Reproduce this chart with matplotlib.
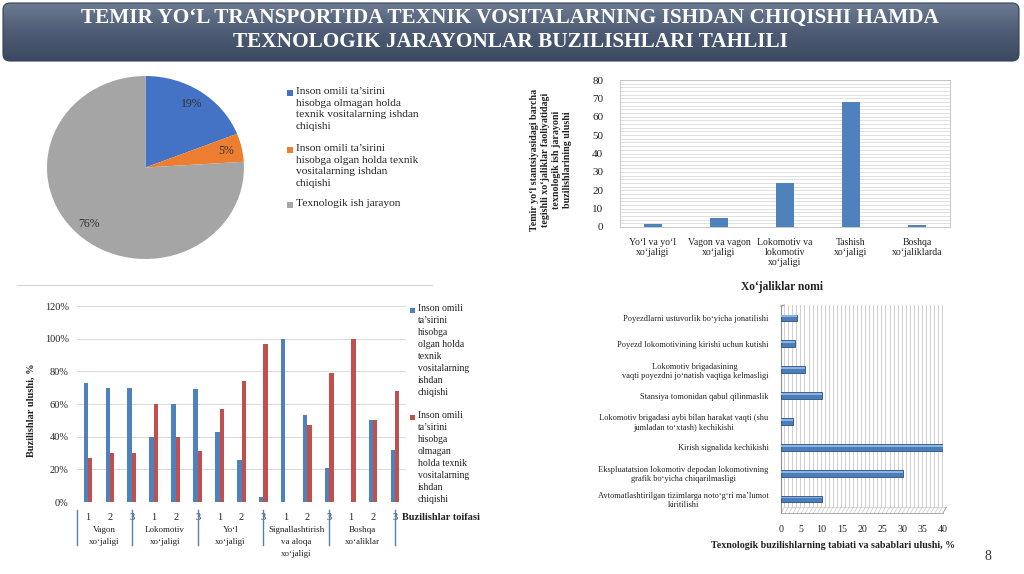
import numpy as np
import matplotlib
matplotlib.use("Agg")
import matplotlib.pyplot as plt
from matplotlib.patches import FancyBboxPatch, Rectangle
from matplotlib.colors import LinearSegmentedColormap
from matplotlib.ticker import MultipleLocator, FuncFormatter
import matplotlib.transforms as mtransforms

plt.rcParams['font.family'] = ['Liberation Serif', 'DejaVu Serif']

# ---------------- data ----------------
title_lines = ["TEMIR YO‘L TRANSPORTIDA TEXNIK VOSITALARNING ISHDAN CHIQISHI HAMDA",
               "TEXNOLOGIK JARAYONLAR BUZILISHLARI TAHLILI"]

pie_labels = ["Inson omili ta’sirini\nhisobga olmagan holda\ntexnik vositalarning ishdan\nchiqishi",
              "Inson omili ta’sirini\nhisobga olgan holda texnik\nvositalarning ishdan\nchiqishi",
              "Texnologik ish jarayon"]
pie_values = [19, 5, 76]
pie_colors = ['#4472C4', '#ED7D31', '#A5A5A5']

dept_names = ["Yo‘l va yo‘l\nxo‘jaligi", "Vagon va vagon\nxo‘jaligi",
              "Lokomotiv va\nlokomotiv\nxo‘jaligi", "Tashish\nxo‘jaligi",
              "Boshqa\nxo‘jaliklarda"]
dept_values = [1.8, 4.7, 24, 68, 0.9]
dept_ylabel = ("Temir yo‘l stantsiyasidagi barcha\ntegishli xo‘jaliklar faoliyatidagi\n"
               "texnologik ish jarayoni\nbuzilishlarining ulushi")
dept_xlabel = "Xo‘jaliklar nomi"

group_names = ["Vagon\nxo‘jaligi", "Lokomotiv\nxo‘jaligi", "Yo‘l\nxo‘jaligi",
               "Signallashtirish\nva aloqa\nxo‘jaligi", "Boshqa\nxo‘aliklar"]
sub_labels = ["1", "2", "3"]
share_blue = [73, 70, 70, 40, 60, 69, 43, 26, 3, 100, 53, 21, 0, 50, 32]
share_red = [27, 30, 30, 60, 40, 31, 57, 74, 97, 0, 47, 79, 100, 50, 68]
share_legend = ["Inson omili\nta’sirini\nhisobga\nolgan holda\ntexnik\nvositalarning\nishdan\nchiqishi",
                "Inson omili\nta’sirini\nhisobga\nolmagan\nholda texnik\nvositalarning\nishdan\nchiqishi"]
share_colors = ['#4F81BD', '#C0504D']

tech_causes = ["Poyezdlarni ustuvorlik bo‘yicha jonatilishi",
               "Poyezd lokomotivining kirishi uchun kutishi",
               "Lokomotiv brigadasining\nvaqti poyezdni jo‘natish vaqtiga kelmasligi",
               "Stansiya tomonidan qabul qilinmaslik",
               "Lokomotiv brigadasi aybi bilan harakat vaqti (shu\njumladan to‘xtash) kechikishi",
               "Kirish signalida kechikishi",
               "Ekspluatatsion lokomotiv depodan lokomotivning\ngrafik bo‘yicha chiqarilmasligi",
               "Avtomatlashtirilgan tizimlarga noto‘g‘ri ma’lumot\nkiritilishi"]
tech_values = [4, 3.5, 6, 10, 3, 40, 30, 10]
tech_xlabel = "Texnologik buzilishlarning tabiati va sabablari ulushi, %"

# ---------------- figure ----------------
W, H = 1024, 574
fig = plt.figure(figsize=(W / 100, H / 100), dpi=100)
fig.patch.set_facecolor('white')


def add_ax(x0, y0, x1, y1, **kw):
    return fig.add_axes([x0 / W, 1 - y1 / H, (x1 - x0) / W, (y1 - y0) / H], **kw)


def ftext(x, y, s, **kw):
    return fig.text(x / W, 1 - y / H, s, **kw)


# ---- title banner ----
bax = add_ax(2, 2, 1020, 62)
bax.set_xlim(0, 1018)
bax.set_ylim(0, 60)
bax.set_axis_off()
cmap = LinearSegmentedColormap.from_list('banner', ['#6d7c91', '#4d5c74', '#3b4861'])
grad = np.linspace(0, 1, 64).reshape(-1, 1)
im = bax.imshow(grad, aspect='auto', cmap=cmap, extent=[0, 1018, 0, 60], origin='upper')
patch = FancyBboxPatch((1, 1), 1016, 58, boxstyle='round,pad=0,rounding_size=7',
                       facecolor='none', edgecolor='#34415a', lw=0.8)
bax.add_patch(patch)
im.set_clip_path(patch)
ftext(510, 18, title_lines[0], ha='center', va='center', color='white',
      fontsize=15.35, fontweight='bold')
ftext(510, 42, title_lines[1], ha='center', va='center', color='white',
      fontsize=15.35, fontweight='bold')

# ---- pie chart ----
pax = add_ax(47, 76, 244, 259)
wedges, texts, autotexts = pax.pie(
    pie_values, colors=pie_colors, startangle=90, counterclock=False,
    autopct=lambda p: f'{p:.0f}%', pctdistance=0.84,
    wedgeprops=dict(linewidth=0),
    textprops=dict(fontsize=8.5, color='#333333'))
pax.set_aspect('auto')
pax.set_xlim(-1, 1)
pax.set_ylim(-1, 1)

pie_leg_tops = [87, 144, 199]
for lab, col, yt in zip(pie_labels, pie_colors, pie_leg_tops):
    fig.patches.append(Rectangle((287 / W, 1 - (yt + 9) / H), 6 / W, 6 / H,
                                 transform=fig.transFigure, facecolor=col, edgecolor='none'))
    ftext(296, yt, lab, ha='left', va='top', fontsize=8.2, color='#222222', linespacing=1.36)

# ---- top-right bar chart ----
dax = add_ax(620, 80, 950, 227)
xd = np.arange(len(dept_names))
dax.bar(xd, dept_values, width=0.26, color='#4F81BD', zorder=3)
dax.set_xlim(-0.5, len(dept_names) - 0.5)
dax.set_ylim(0, 80)
dax.set_yticks(range(0, 81, 10))
dax.yaxis.set_minor_locator(MultipleLocator(2))
dax.grid(axis='y', which='both', color='#dadada', lw=0.6)
dax.set_xticks(xd)
dax.set_xticklabels(dept_names, fontsize=7, color='#222222', linespacing=1.12)
dax.tick_params(axis='y', labelsize=8, length=0, pad=12, colors='#222222')
dax.tick_params(axis='x', length=0, pad=8)
dax.tick_params(which='minor', length=0)
for s in dax.spines.values():
    s.set_color('#bfbfbf')
    s.set_linewidth(0.6)
ftext(551, 160, dept_ylabel, rotation=90, ha='center', va='center', ma='center',
      fontsize=7.2, fontweight='bold', color='#222222', linespacing=1.3)
ftext(782, 287, dept_xlabel, ha='center', va='center', fontsize=8.3,
      fontweight='bold', color='#222222')

# separator line
fig.add_artist(plt.Line2D([17 / W, 432 / W], [1 - 285 / H, 1 - 285 / H],
                          color='#d6d6d6', lw=0.8))

# ---- bottom-left grouped bars ----
cax = add_ax(77, 306, 406, 502)
n = len(share_blue)
xs = np.arange(n)
bw = 0.2
cax.bar(xs - bw / 2, share_blue, bw, color=share_colors[0], zorder=3)
cax.bar(xs + bw / 2, share_red, bw, color=share_colors[1], zorder=3)
cax.set_xlim(-0.5, n - 0.5)
cax.set_ylim(0, 120)
cax.set_yticks(range(0, 121, 20))
cax.yaxis.set_major_formatter(FuncFormatter(lambda v, p: f'{v:.0f}%'))
cax.grid(axis='y', color='#d9d9d9', lw=0.7)
for s in cax.spines.values():
    s.set_visible(False)
cax.set_xticks(xs)
cax.set_xticklabels(sub_labels * len(group_names), fontsize=7.5, color='#222222')
cax.tick_params(axis='x', length=0, pad=8)
cax.tick_params(axis='y', length=0, pad=6, labelsize=7.5, colors='#222222')

trans = mtransforms.blended_transform_factory(cax.transData, cax.transAxes)
ng = len(sub_labels)
seps = [-0.5] + [ng * k + ng - 1 for k in range(len(group_names))]
for sx in seps:
    cax.plot([sx, sx], [-0.041, -0.219], transform=trans, color='#4F81BD',
             lw=1.0, clip_on=False)
for k, g in enumerate(group_names):
    cx = (seps[k] + seps[k + 1]) / 2
    cax.text(cx, -0.125, g, transform=trans, ha='center', va='top', ma='center',
             fontsize=6.5, color='#222222', linespacing=1.6)
ftext(402, 518, "Buzilishlar toifasi", ha='left', va='center', fontsize=7.5,
      fontweight='bold', color='#222222')
ftext(31, 410, "Buzilishlar ulushi, %", rotation=90, ha='center', va='center',
      fontsize=7.5, fontweight='bold', color='#222222')

share_leg_tops = [304, 411]
for lab, col, yt in zip(share_legend, share_colors, share_leg_tops):
    fig.patches.append(Rectangle((410 / W, 1 - (yt + 9) / H), 5 / W, 5 / H,
                                 transform=fig.transFigure, facecolor=col, edgecolor='none'))
    ftext(418, yt, lab, ha='left', va='top', fontsize=7, color='#222222', linespacing=1.43)

# ---- bottom-right horizontal 3D-like bars ----
tax = add_ax(781, 305, 943, 513)
nt = len(tech_causes)
yt_pos = np.arange(nt)
ybot, ytop = nt - 0.46, -0.5
tax.set_xlim(0, 40)
tax.set_ylim(ybot, ytop)
dx, dy = 0.8, 0.22
for i in range(0, 41):
    tax.plot([i + dx, i + dx], [ybot - dy, ytop], color='#c8c8c8', lw=0.6, zorder=1)
    tax.plot([i, i + dx], [ybot, ybot - dy], color='#c8c8c8', lw=0.5, zorder=1, clip_on=False)
tax.plot([0, 40], [ybot, ybot], color='#a0a0a0', lw=0.6, clip_on=False)
tax.plot([dx, 40 + dx], [ybot - dy, ybot - dy], color='#c8c8c8', lw=0.5, clip_on=False)
tax.plot([0, 0], [ybot, ytop + dy * 0.2], color='#909090', lw=0.8, clip_on=False)
tax.plot([0, dx], [ytop + dy * 0.2, ytop], color='#909090', lw=0.8, clip_on=False)
tax.plot([40, 40 + dx], [ybot, ybot - dy], color='#a0a0a0', lw=0.6, clip_on=False)
tax.barh(yt_pos, tech_values, height=0.26, color='#4A7EBB', edgecolor='#2C5282',
         lw=0.6, zorder=3)
tax.barh(yt_pos - 0.06, tech_values, height=0.07, color='#8DB3E2', edgecolor='none',
         zorder=4)
tax.set_yticks(yt_pos)
tax.set_yticklabels(tech_causes, fontsize=6, color='#222222', linespacing=1.2, ma='center')
tax.set_xticks(range(0, 41, 5))
tax.tick_params(axis='x', length=0, pad=9, labelsize=7.2, colors='#222222')
tax.tick_params(axis='y', length=0, pad=9)
for s in tax.spines.values():
    s.set_visible(False)
tax.patch.set_alpha(0)
ftext(833, 545, tech_xlabel, ha='center', va='center', fontsize=7.2,
      fontweight='bold', color='#222222')

# slide number
ftext(988, 557, "8", ha='center', va='center', fontsize=10, color='#333333')

fig.savefig('out.png', dpi=100)
